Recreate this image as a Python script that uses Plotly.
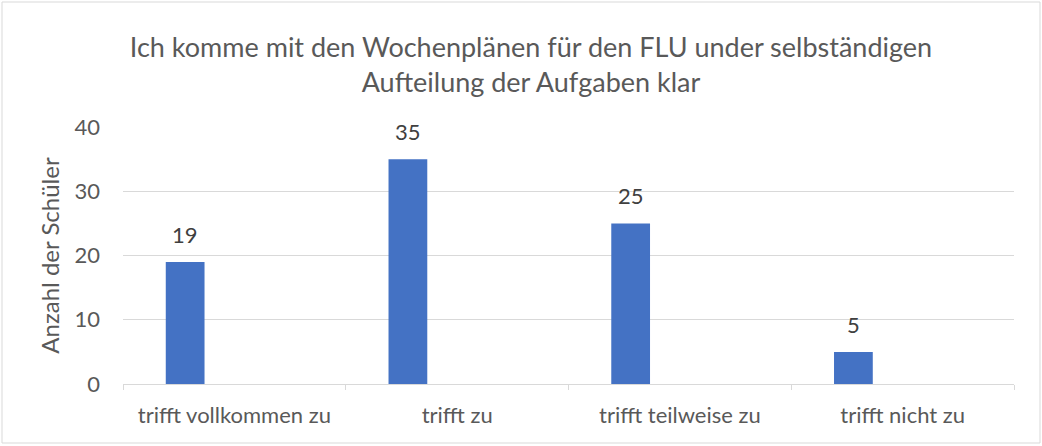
import plotly.graph_objects as go

categories = ["trifft vollkommen zu", "trifft zu", "trifft teilweise zu", "trifft nicht zu"]
values = [19, 35, 25, 5]
y_ticks = [0, 10, 20, 30, 40]
title_text = "Ich komme mit den Wochenplänen für den FLU under selbständigen<br>Aufteilung der Aufgaben klar"
y_title = "Anzahl der Schüler"

W, H = 1042, 446
L, R, T, B = 123, 28, 127, 62
pw, ph = W - L - R, H - T - B

def px_x(p):
    return (p - L) / pw

def px_y(p):
    return (H - B - p) / ph

font = "Lato"
gray = "#595959"
fs = 22

fig = go.Figure()
fig.add_trace(go.Bar(
    x=categories, y=values,
    marker=dict(color="#4472C4", line=dict(width=0)),
    offset=-0.308, width=0.174,
))

for c, v in zip(categories, values):
    fig.add_annotation(
        x=c, y=v, xref="x", yref="y", text=str(v), showarrow=False,
        xshift=-0.221 * pw / 4, yanchor="bottom", yshift=12,
        font=dict(family=font, size=fs, color="#404040"),
    )

fig.add_shape(type="rect", xref="paper", yref="paper",
              x0=px_x(2), x1=px_x(1040), y0=px_y(443), y1=px_y(2),
              line=dict(color="#d9d9d9", width=1), fillcolor="rgba(0,0,0,0)", layer="below")

fig.update_layout(
    width=W, height=H,
    margin=dict(l=L, r=R, t=T, b=B, pad=0, autoexpand=False),
    paper_bgcolor="white", plot_bgcolor="white",
    showlegend=False,
    title=dict(text=title_text, x=px_x(531), xref="paper", xanchor="center",
               y=1 - 57 / H, yref="container", yanchor="middle",
               font=dict(family=font, size=27, color=gray)),
    font=dict(family=font, color=gray),
    xaxis=dict(
        type="category", range=[-0.5, 3.5], automargin=False,
        showgrid=False, showline=True, linecolor="#d9d9d9", linewidth=1,
        ticks="outside", tickson="boundaries", ticklen=5, tickcolor="#d9d9d9",
        tickfont=dict(family=font, size=fs, color=gray),
        ticklabelstandoff=12,
    ),
    yaxis=dict(
        range=[0, 40], tickvals=y_ticks, showgrid=True, gridcolor="#d9d9d9", gridwidth=1,
        zeroline=False, showline=False, ticks="", automargin=False,
        tickfont=dict(family=font, size=fs, color=gray),
        ticklabelstandoff=22,
        title=dict(text=y_title, font=dict(family=font, size=24, color=gray), standoff=8),
    ),
)

fig.write_html("out.html", config={"displayModeBar": False},
               post_script="document.body.style.margin='0';document.body.style.overflow='hidden';")
